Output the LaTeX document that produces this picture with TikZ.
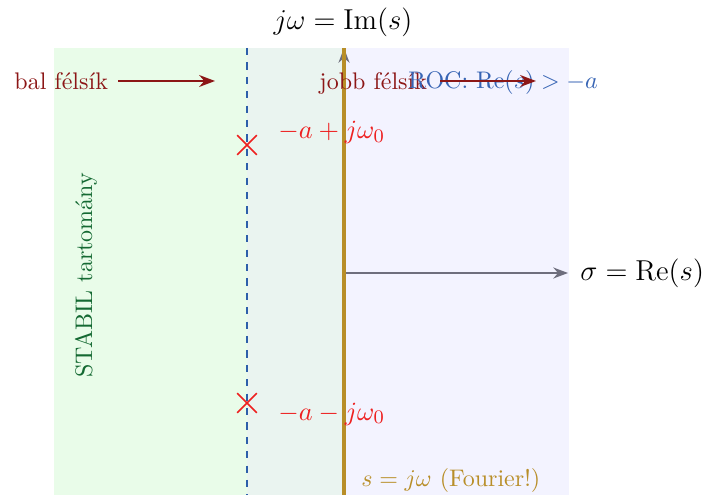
\documentclass[tikz,border=0pt]{standalone}
\usetikzlibrary{arrows.meta,shapes.misc}
\definecolor{darkred}{RGB}{140,22,22}
\definecolor{polered}{RGB}{238,32,32}
\definecolor{roctext}{RGB}{55,100,180}
\definecolor{rocline}{RGB}{45,95,170}
\definecolor{goldc}{RGB}{184,142,40}
\definecolor{axgrey}{RGB}{110,110,125}
\definecolor{stabtext}{RGB}{20,105,50}
\definecolor{stabgreen}{RGB}{233,252,233}
\definecolor{overlapc}{RGB}{234,244,240}
\definecolor{rocblue}{RGB}{243,243,255}
\begin{document}
\begin{tikzpicture}[x=0.41667pt,y=-0.41667pt,
  lbl/.style={inner sep=0pt, anchor=base west},
  axis/.style={draw=axgrey, line width=0.7pt, -{Stealth}},
  pointer/.style={draw=darkred, line width=0.8pt, -{Stealth}},
  pole/.style={draw=polered, cross out, line width=0.7pt, minimum size=7.5pt, inner sep=0pt},
  polelbl/.style={lbl, text=polered, font=\fontsize{11}{13}\selectfont},
]
\useasboundingbox (0,0) rectangle (706,495);
% regions
\fill[stabgreen] (54,48) rectangle (247,495);
\fill[overlapc] (247,48) rectangle (344,495);
\fill[rocblue] (344,48) rectangle (569,495);
% axes
\coordinate (O) at (344,273);
\coordinate (ytop) at (344,48);
\coordinate (ybot) at (344,495);
\coordinate (xend) at (568,273);
\draw[axis] (ybot) -- (ytop);
\draw[axis] (O) -- (xend);
\draw[goldc, line width=1.5pt] (ybot) -- (ytop);
% ROC boundary
\coordinate (dtop) at (247,48);
\coordinate (dbot) at (247,495);
\draw[rocline, dashed, line width=0.8pt] (dtop) -- (dbot);
% poles
\node[pole] (p1) at (247,145) {};
\node[pole] (p2) at (247,403) {};
\node[polelbl] (p1l) at (278,139) {$-a+j\omega_0$};
\node[polelbl] (p2l) at (278,420) {$-a-j\omega_0$};
% axis labels
\node[inner sep=0pt, anchor=base] (ylab) at (343,30) {\large $j\omega=\mathrm{Im}(s)$};
\node[lbl] (xlab) at (580,280) {\large $\sigma=\mathrm{Re}(s)$};
% half-plane labels
\node[lbl, text=darkred] (bal) at (14,90) {bal félsík};
\node[lbl, text=darkred] (jobb) at (319,90) {jobb félsík};
\node[lbl, text=roctext] (roc) at (408,89) {ROC: $\mathrm{Re}(s)>-a$};
\coordinate (b1) at (118,81);
\coordinate (b2) at (215,81);
\coordinate (j1) at (440,81);
\coordinate (j2) at (536,81);
\draw[pointer] (b1) -- (b2);
\draw[pointer] (j1) -- (j2);
% other labels
\node[lbl, text=goldc] (four) at (361,486) {$s=j\omega$ (Fourier!)};
\node[lbl, rotate=90, text=stabtext] (stab) at (92,378) {STABIL tartomány};
\end{tikzpicture}
\end{document}
